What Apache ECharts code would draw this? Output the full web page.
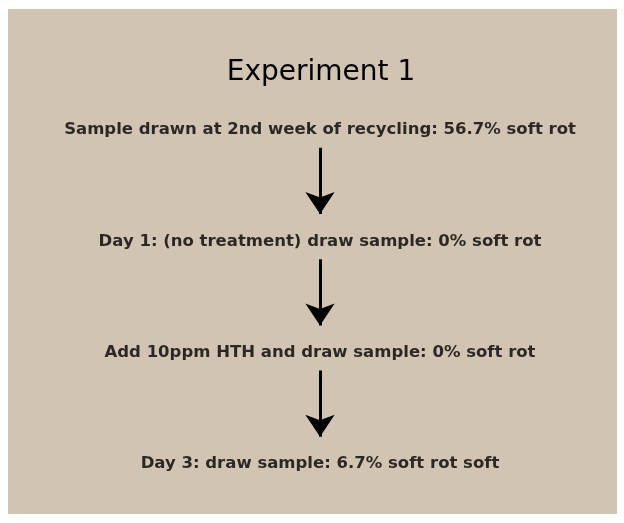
<!DOCTYPE html>
<html><head><meta charset="utf-8">
<script src="https://cdn.jsdelivr.net/npm/echarts@6/dist/echarts.min.js"></script>
<style>html,body{margin:0;padding:0;background:#fff}#c{width:624px;height:523px}</style>
</head><body><div id="c"></div>
<script>
const titleText = "Experiment 1";
const stepLabels = [
  "Sample drawn at 2nd week of recycling: 56.7% soft rot",
  "Day 1: (no treatment) draw sample: 0% soft rot",
  "Add 10ppm HTH and draw sample: 0% soft rot",
  "Day 3: draw sample: 6.7% soft rot soft"
];
const stepIndex = [0, 1, 2, 3];
// arrows connect step i to step i+1
const arrowFrom = [0, 1, 2];
const arrowTo = [1, 2, 3];

const FONT = "'DejaVu Sans', sans-serif";
const gapStart = 0.16, gapEnd = 0.755;

const chart = echarts.init(document.getElementById('c'), null, {renderer: 'canvas'});
chart.setOption({
  backgroundColor: '#ffffff',
  animation: false,
  graphic: [{
    type: 'rect', z: -10, silent: true,
    shape: {x: 8, y: 9, width: 609, height: 505},
    style: {fill: '#d2c4b2'}
  }],
  title: {
    text: titleText, left: 316, textAlign: 'center', top: 54,
    textStyle: {fontFamily: FONT, fontSize: 28, fontWeight: 'normal', color: '#000'}
  },
  grid: {left: 16, right: 0, top: 130, bottom: 59},
  xAxis: {type: 'value', min: -1, max: 1, show: false},
  yAxis: {type: 'value', min: 0, max: 3, inverse: true, show: false},
  series: [
    {
      type: 'scatter',
      symbolSize: 0,
      data: stepIndex.map((s, i) => ({value: [0, s], name: stepLabels[i]})),
      label: {
        show: true, position: 'inside', formatter: p => p.name,
        fontFamily: FONT, fontSize: 16.5, fontWeight: 'bold', color: '#000'
      },
      silent: true
    },
    {
      type: 'lines',
      coordinateSystem: 'cartesian2d',
      symbol: ['none', 'arrow'],
      symbolSize: 22,
      lineStyle: {color: '#000', width: 3, opacity: 1},
      silent: true,
      data: arrowFrom.map((f, i) => ({coords: [[0, f + gapStart], [0, arrowTo[i] - (1 - gapEnd)]]}))
    }
  ]
});
</script></body></html>
